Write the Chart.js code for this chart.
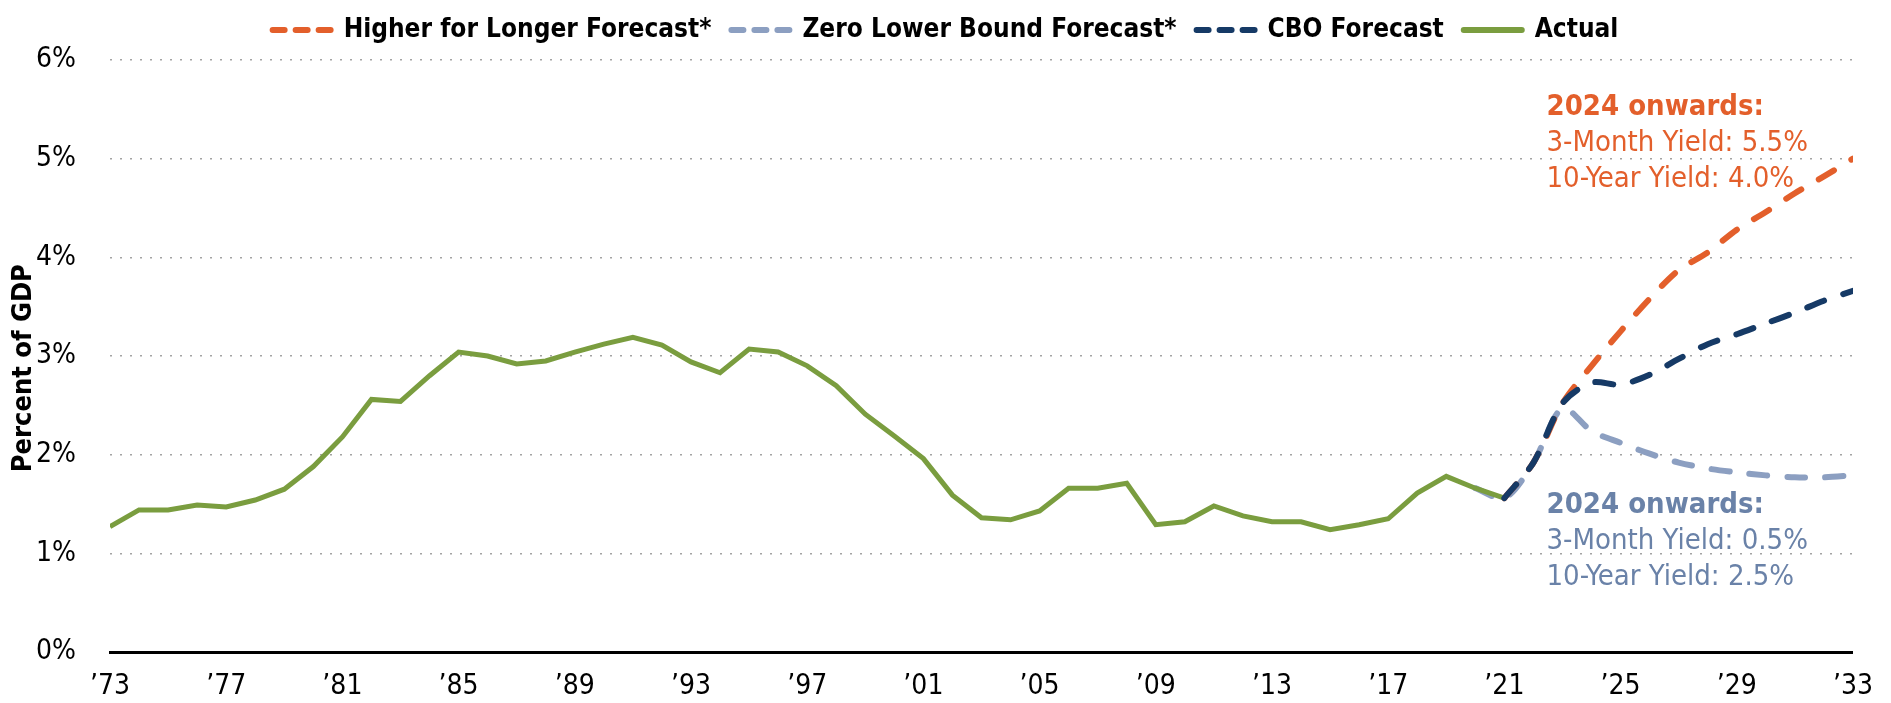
<!DOCTYPE html>
<html>
<head>
<meta charset="utf-8">
<script src="https://cdn.jsdelivr.net/npm/chart.js@4/dist/chart.umd.min.js"></script>
<style>
  html, body { margin: 0; padding: 0; background: #fff; }
  #wrap { width: 1891px; height: 703px; }
</style>
</head>
<body>
<div id="wrap"><canvas id="chart" width="1891" height="703"></canvas></div>
<script>
// net interest, percent of GDP
const actualStart = 1973;
const actual = [1.27, 1.44, 1.44, 1.49, 1.47, 1.54, 1.65, 1.88, 2.18, 2.56,
  2.54, 2.80, 3.04, 3.00, 2.92, 2.95, 3.04, 3.12, 3.19, 3.11,
  2.94, 2.83, 3.07, 3.04, 2.90, 2.70, 2.41, 2.19, 1.96, 1.59,
  1.36, 1.34, 1.43, 1.66, 1.66, 1.71, 1.29, 1.32, 1.48, 1.38,
  1.32, 1.32, 1.24, 1.29, 1.35, 1.61, 1.78, 1.66, 1.56];

const zlbStart = 2020;
const zlb = [1.66, 1.56, 1.92, 2.47, 2.24, 2.12, 2.01, 1.92, 1.86, 1.82, 1.79, 1.77, 1.77, 1.79];

const forecastStart = 2021;
const cbo = [1.56, 1.92, 2.52, 2.73, 2.71, 2.81, 2.97, 3.12, 3.22, 3.33, 3.44, 3.56, 3.66];
const higher = [1.56, 1.92, 2.52, 2.90, 3.25, 3.58, 3.87, 4.05, 4.28, 4.46, 4.65, 4.82, 5.00];

const tickYears = [1973, 1977, 1981, 1985, 1989, 1993, 1997, 2001, 2005, 2009, 2013, 2017, 2021, 2025, 2029, 2033];

const notes = [
  { lines: ['2024 onwards:', '3-Month Yield: 5.5%', '10-Year Yield: 4.0%'], color: '#E35F2B', x: 2022.45, y: 5.52 },
  { lines: ['2024 onwards:', '3-Month Yield: 0.5%', '10-Year Yield: 2.5%'], color: '#6A82A8', x: 2022.45, y: 1.49 }
];

const FONT = "'Liberation Sans Narrow', 'DejaVu Sans Condensed', 'Arial Narrow', sans-serif";

const toPoints = (start, vals) => vals.map((v, i) => ({ x: start + i, y: v }));

const dash = [18, 20];

const noteText = {
  id: 'noteText',
  afterDatasetsDraw(chart) {
    const { ctx, scales: { x, y } } = chart;
    ctx.save();
    ctx.textBaseline = 'middle';
    ctx.textAlign = 'left';
    notes.forEach(n => {
      const px = x.getPixelForValue(n.x);
      const py = y.getPixelForValue(n.y);
      n.lines.forEach((t, i) => {
        ctx.font = (i === 0 ? 'bold ' : '') + '29px ' + FONT;
        ctx.fillStyle = n.color;
        ctx.fillText(t, px, py + i * 36);
      });
    });
    ctx.restore();
  }
};

// fixed legend height, and centre it on the whole canvas
const legendTweak = {
  id: 'legendTweak',
  beforeInit(chart) {
    const lg = chart.legend;
    const fit = lg.fit;
    lg.fit = function () {
      fit.bind(lg)();
      this.height = 63;
    };
    const draw = lg.draw;
    lg.draw = function () {
      const ctx = chart.ctx;
      ctx.save();
      ctx.translate(18, 0);
      draw.bind(lg)();
      ctx.restore();
    };
  }
};

new Chart(document.getElementById('chart'), {
  type: 'line',
  data: {
    datasets: [
      {
        label: 'Higher for Longer Forecast*',
        data: toPoints(forecastStart, higher),
        borderColor: '#E35F2B',
        borderWidth: 6,
        borderDash: dash,
        borderCapStyle: 'round',
        tension: 0.3,
        order: 3
      },
      {
        label: 'Zero Lower Bound Forecast*',
        data: toPoints(zlbStart, zlb),
        borderColor: '#8C9FC1',
        borderWidth: 6,
        borderDash: dash,
        borderCapStyle: 'round',
        tension: 0.3,
        order: 4
      },
      {
        label: 'CBO Forecast',
        data: toPoints(forecastStart, cbo),
        borderColor: '#163A66',
        borderWidth: 6,
        borderDash: dash,
        borderCapStyle: 'round',
        tension: 0.3,
        order: 1
      },
      {
        label: 'Actual',
        data: toPoints(actualStart, actual),
        borderColor: '#7A9D3F',
        borderWidth: 5,
        tension: 0,
        order: 2
      }
    ]
  },
  options: {
    responsive: false,
    animation: false,
    devicePixelRatio: 1,
    layout: { padding: { top: -3, right: 36, left: 0, bottom: 0 } },
    elements: { point: { radius: 0 } },
    plugins: {
      legend: {
        display: true,
        position: 'top',
        labels: {
          usePointStyle: true,
          pointStyle: 'line',
          pointStyleWidth: 58,
          boxWidth: 58,
          boxHeight: 6,
          padding: 20,
          color: '#000',
          font: { family: FONT, size: 26, weight: 'bold' },
          sort: (a, b) => a.datasetIndex - b.datasetIndex,
          generateLabels(chart) {
            const items = Chart.defaults.plugins.legend.labels.generateLabels(chart);
            items.forEach(it => {
              it.pointStyle = 'line';
              it.lineWidth = 6;
              it.lineCap = 'round';
              it.lineDash = chart.data.datasets[it.datasetIndex].borderDash ? [12, 11] : [];
            });
            return items;
          }
        }
      },
      tooltip: { enabled: false }
    },
    scales: {
      x: {
        type: 'linear',
        min: 1973,
        max: 2033,
        afterBuildTicks(scale) { scale.ticks = tickYears.map(v => ({ value: v })); },
        afterFit(scale) { scale.height = 51; },
        grid: { display: false, drawTicks: false },
        border: { display: true, color: '#000', width: 3 },
        ticks: {
          autoSkip: false,
          maxRotation: 0,
          padding: 18,
          color: '#000',
          font: { family: FONT, size: 28 },
          callback: v => '\u2019' + String(v).slice(2)
        }
      },
      y: {
        min: 0,
        max: 6,
        afterFit(scale) { scale.width = 110; },
        grid: { color: '#A3A3A3', lineWidth: 1.5, drawTicks: false },
        border: { display: false, dash: [2, 8] },
        ticks: {
          stepSize: 1,
          padding: 34,
          color: '#000',
          font: { family: FONT, size: 28 },
          callback: v => v + '%'
        },
        title: {
          display: true,
          text: 'Percent of GDP\u2002\u2002',
          color: '#000',
          padding: { top: 8, bottom: 0 },
          font: { family: FONT, size: 27, weight: 'bold' }
        }
      }
    }
  },
  plugins: [noteText, legendTweak]
});
</script>
</body>
</html>
